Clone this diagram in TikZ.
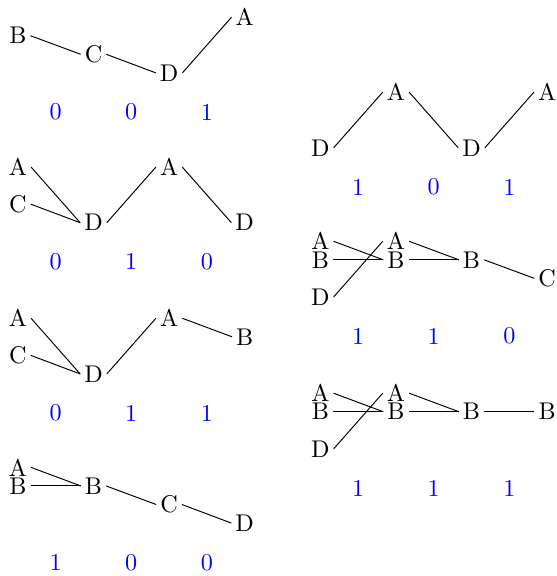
\documentclass[tikz,border=0pt]{standalone}
\usepackage{xcolor}
\usepackage{tikz}

\begin{document}
\begin{tikzpicture}[lt/.style={inner sep=1.5pt}, bit/.style={blue}]
\useasboundingbox (0,0) rectangle (8.09,-8.38);
% left column
\begin{scope}[shift={(0.26,-0.25)}]
\node[lt] (g1b) at (0,-0.27) {B};
\node[lt] (g1c) at (1.1,-0.54) {C};
\node[lt] (g1d) at (2.2,-0.81) {D};
\node[lt] (g1a) at (3.3,0) {A};
\draw (g1b.east)--(g1c.west);
\draw (g1c.east)--(g1d.west);
\draw (g1d.east)--(g1a.west);
\node[bit] (g1n1) at (0.55,-1.38) {0};
\node[bit] (g1n2) at (1.65,-1.38) {0};
\node[bit] (g1n3) at (2.75,-1.38) {1};
\end{scope}
\begin{scope}[shift={(0.26,-2.43)}]
\node[lt] (g2a) at (0,0) {A};
\node[lt] (g2c) at (0,-0.54) {C};
\node[lt] (g2d) at (1.1,-0.81) {D};
\node[lt] (g2aa) at (2.2,0) {A};
\node[lt] (g2dd) at (3.3,-0.81) {D};
\draw (g2a.east)--(g2d.west);
\draw (g2c.east)--(g2d.west);
\draw (g2d.east)--(g2aa.west);
\draw (g2aa.east)--(g2dd.west);
\node[bit] (g2n1) at (0.55,-1.38) {0};
\node[bit] (g2n2) at (1.65,-1.38) {1};
\node[bit] (g2n3) at (2.75,-1.38) {0};
\end{scope}
\begin{scope}[shift={(0.26,-4.63)}]
\node[lt] (g3a) at (0,0) {A};
\node[lt] (g3c) at (0,-0.54) {C};
\node[lt] (g3d) at (1.1,-0.81) {D};
\node[lt] (g3aa) at (2.2,0) {A};
\node[lt] (g3b) at (3.3,-0.27) {B};
\draw (g3a.east)--(g3d.west);
\draw (g3c.east)--(g3d.west);
\draw (g3d.east)--(g3aa.west);
\draw (g3aa.east)--(g3b.west);
\node[bit] (g3n1) at (0.55,-1.38) {0};
\node[bit] (g3n2) at (1.65,-1.38) {1};
\node[bit] (g3n3) at (2.75,-1.38) {1};
\end{scope}
\begin{scope}[shift={(0.26,-6.80)}]
\node[lt] (g4a) at (0,0) {A};
\node[lt] (g4b) at (0,-0.27) {B};
\node[lt] (g4bb) at (1.1,-0.27) {B};
\node[lt] (g4c) at (2.2,-0.54) {C};
\node[lt] (g4d) at (3.3,-0.81) {D};
\draw (g4a.east)--(g4bb.west);
\draw (g4b.east)--(g4bb.west);
\draw (g4bb.east)--(g4c.west);
\draw (g4c.east)--(g4d.west);
\node[bit] (g4n1) at (0.55,-1.38) {1};
\node[bit] (g4n2) at (1.65,-1.38) {0};
\node[bit] (g4n3) at (2.75,-1.38) {0};
\end{scope}
% right column
\begin{scope}[shift={(4.66,-1.34)}]
\node[lt] (r1d) at (0,-0.81) {D};
\node[lt] (r1a) at (1.1,0) {A};
\node[lt] (r1dd) at (2.2,-0.81) {D};
\node[lt] (r1aa) at (3.3,0) {A};
\draw (r1d.east)--(r1a.west);
\draw (r1a.east)--(r1dd.west);
\draw (r1dd.east)--(r1aa.west);
\node[bit] (r1n1) at (0.55,-1.38) {1};
\node[bit] (r1n2) at (1.65,-1.38) {0};
\node[bit] (r1n3) at (2.75,-1.38) {1};
\end{scope}
\begin{scope}[shift={(4.66,-3.51)}]
\node[lt] (r2a) at (0,0) {A};
\node[lt] (r2b) at (0,-0.27) {B};
\node[lt] (r2d) at (0,-0.81) {D};
\node[lt] (r2aa) at (1.1,0) {A};
\node[lt] (r2bb) at (1.1,-0.27) {B};
\node[lt] (r2bbb) at (2.2,-0.27) {B};
\node[lt] (r2c) at (3.3,-0.54) {C};
\draw (r2a.east)--(r2bb.west);
\draw (r2b.east)--(r2bb.west);
\draw (r2d.east)--(r2aa.west);
\draw (r2aa.east)--(r2bbb.west);
\draw (r2bb.east)--(r2bbb.west);
\draw (r2bbb.east)--(r2c.west);
\node[bit] (r2n1) at (0.55,-1.38) {1};
\node[bit] (r2n2) at (1.65,-1.38) {1};
\node[bit] (r2n3) at (2.75,-1.38) {0};
\end{scope}
\begin{scope}[shift={(4.66,-5.72)}]
\node[lt] (r3a) at (0,0) {A};
\node[lt] (r3b) at (0,-0.27) {B};
\node[lt] (r3d) at (0,-0.81) {D};
\node[lt] (r3aa) at (1.1,0) {A};
\node[lt] (r3bb) at (1.1,-0.27) {B};
\node[lt] (r3bbb) at (2.2,-0.27) {B};
\node[lt] (r3bf) at (3.3,-0.27) {B};
\draw (r3a.east)--(r3bb.west);
\draw (r3b.east)--(r3bb.west);
\draw (r3d.east)--(r3aa.west);
\draw (r3aa.east)--(r3bbb.west);
\draw (r3bb.east)--(r3bbb.west);
\draw (r3bbb.east)--(r3bf.west);
\node[bit] (r3n1) at (0.55,-1.38) {1};
\node[bit] (r3n2) at (1.65,-1.38) {1};
\node[bit] (r3n3) at (2.75,-1.38) {1};
\end{scope}
\end{tikzpicture}
\end{document}
